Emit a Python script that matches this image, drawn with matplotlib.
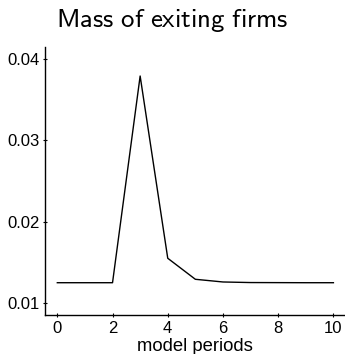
import matplotlib
matplotlib.use("Agg")
import matplotlib.pyplot as plt

# Data
periods = [0, 1, 2, 3, 4, 5, 6, 7, 8, 9, 10]
mass_exit = [0.01255, 0.01255, 0.01255, 0.03791, 0.01555, 0.01297,
             0.01264, 0.01257, 0.01256, 0.01255, 0.01255]
yticks = [0.01, 0.02, 0.03, 0.04]
xticks = [0, 2, 4, 6, 8, 10]

plt.rcParams['font.family'] = ['Liberation Sans', 'DejaVu Sans']
plt.rcParams['mathtext.fontset'] = 'cm'

fig = plt.figure(figsize=(3.45, 3.54), dpi=100)
ax = fig.add_axes([45 / 345, (354 - 314.5) / 354, 300 / 345, 267.5 / 354])

ax.plot(periods, mass_exit, color='black', linewidth=1.0)

ax.set_xlim(-0.446, 10.42)
ax.set_ylim(0.00865, 0.04147)
ax.set_xticks(xticks)
ax.set_yticks(yticks)
ax.set_yticklabels([f"{v:.2f}" for v in yticks])

for side in ['top', 'right']:
    ax.spines[side].set_visible(False)
for side in ['left', 'bottom']:
    ax.spines[side].set_linewidth(1.0)

ax.tick_params(direction='inout', length=3.5, width=0.8, labelsize=12)
ax.tick_params(axis='x', pad=3)
ax.tick_params(axis='y', pad=2)
ax.set_xlabel("model periods", fontsize=13.3, labelpad=1.5)

fig.text(0.5, 1 - 27 / 354, r"$\mathsf{Mass\ of\ exiting\ firms}$",
         ha='center', va='baseline', fontsize=19.3)

fig.savefig("out.png", dpi=100)
